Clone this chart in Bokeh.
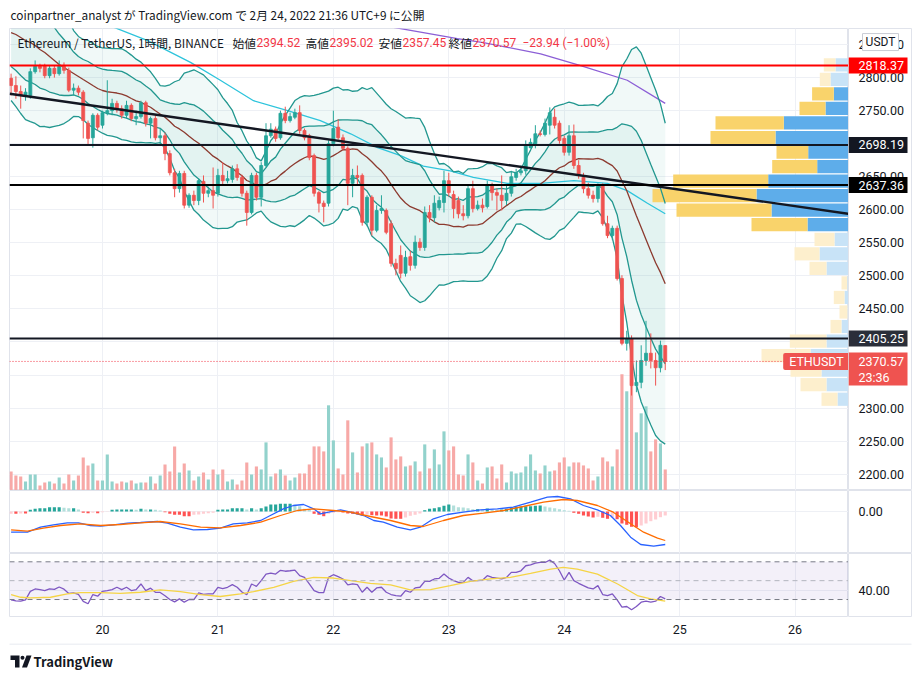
import numpy as np
import pandas as pd
from bokeh.plotting import figure
from bokeh.models import (Range1d, FixedTicker, Span, Label, BoxAnnotation)
from bokeh.layouts import column, row
from bokeh.core.properties import value
from bokeh.embed import file_html
from bokeh.resources import INLINE

# ---------------- data: ETH/USDT 1h (Binance), first bar 2022-02-19 05:00 UTC+9 ----------------
opens = [2799, 2788, 2779, 2773, 2773, 2809, 2817, 2817, 2803, 2814,
         2806, 2817, 2811, 2781, 2784, 2778, 2731, 2709, 2743, 2728,
         2747, 2750, 2761, 2753, 2743, 2758, 2738, 2741, 2762, 2731,
         2738, 2709, 2712, 2685, 2656, 2632, 2655, 2607, 2622, 2614,
         2643, 2625, 2629, 2625, 2652, 2644, 2646, 2662, 2649, 2625,
         2596, 2652, 2619, 2667, 2712, 2722, 2709, 2746, 2735, 2740,
         2747, 2720, 2712, 2682, 2626, 2610, 2610, 2700, 2725, 2709,
         2693, 2640, 2652, 2652, 2581, 2619, 2569, 2599, 2599, 2579,
         2519, 2531, 2504, 2529, 2516, 2551, 2543, 2596, 2588, 2603,
         2611, 2644, 2623, 2614, 2594, 2591, 2632, 2602, 2607, 2605,
         2637, 2626, 2622, 2614, 2625, 2649, 2656, 2659, 2694, 2700,
         2715, 2714, 2728, 2740, 2731, 2708, 2687, 2712, 2667, 2649,
         2632, 2622, 2617, 2637, 2579, 2561, 2572, 2496, 2398, 2405,
         2334, 2339, 2372, 2383, 2372, 2361, 2394.52]
highs = [2806, 2802, 2788, 2784, 2814, 2826, 2821, 2821, 2818, 2818,
         2826, 2823, 2815, 2791, 2788, 2781, 2735, 2746, 2746, 2750,
         2796, 2768, 2765, 2758, 2765, 2761, 2750, 2765, 2765, 2741,
         2743, 2723, 2717, 2690, 2662, 2659, 2659, 2625, 2629, 2647,
         2652, 2635, 2664, 2662, 2672, 2659, 2667, 2669, 2653, 2629,
         2656, 2656, 2672, 2731, 2731, 2726, 2750, 2756, 2747, 2753,
         2758, 2723, 2715, 2685, 2629, 2614, 2705, 2750, 2737, 2714,
         2696, 2662, 2667, 2655, 2622, 2622, 2607, 2622, 2602, 2584,
         2526, 2546, 2538, 2538, 2561, 2557, 2605, 2607, 2622, 2620,
         2659, 2656, 2629, 2620, 2607, 2637, 2644, 2614, 2617, 2644,
         2641, 2632, 2652, 2637, 2659, 2662, 2667, 2705, 2708, 2728,
         2720, 2738, 2755, 2753, 2735, 2712, 2728, 2729, 2675, 2656,
         2641, 2629, 2640, 2640, 2591, 2576, 2576, 2501, 2417, 2410,
         2372, 2395, 2432, 2413, 2384, 2402, 2395.02]
lows = [2773, 2768, 2753, 2765, 2768, 2806, 2808, 2799, 2799, 2800,
        2803, 2806, 2778, 2773, 2773, 2708, 2697, 2694, 2720, 2723,
        2743, 2743, 2747, 2738, 2738, 2734, 2728, 2738, 2726, 2708,
        2705, 2697, 2675, 2652, 2619, 2626, 2602, 2603, 2607, 2607,
        2611, 2619, 2602, 2620, 2637, 2640, 2641, 2644, 2620, 2576,
        2593, 2614, 2605, 2664, 2709, 2703, 2706, 2731, 2732, 2737,
        2715, 2705, 2675, 2620, 2596, 2581, 2605, 2696, 2706, 2690,
        2607, 2619, 2637, 2576, 2575, 2561, 2566, 2594, 2563, 2514,
        2501, 2496, 2499, 2508, 2511, 2538, 2538, 2581, 2581, 2599,
        2596, 2620, 2587, 2587, 2584, 2587, 2596, 2599, 2596, 2602,
        2614, 2599, 2599, 2607, 2620, 2644, 2652, 2653, 2693, 2693,
        2711, 2711, 2714, 2723, 2700, 2682, 2682, 2662, 2647, 2625,
        2617, 2611, 2611, 2576, 2557, 2554, 2493, 2395, 2387, 2319,
        2324, 2330, 2364, 2360, 2334, 2354, 2357.45]
closes = [2788, 2779, 2773, 2778, 2809, 2817, 2814, 2803, 2814, 2806,
          2817, 2811, 2781, 2784, 2778, 2735, 2708, 2743, 2725, 2747,
          2750, 2761, 2753, 2743, 2758, 2738, 2741, 2762, 2731, 2738,
          2709, 2712, 2685, 2656, 2632, 2655, 2607, 2622, 2614, 2644,
          2625, 2629, 2622, 2652, 2644, 2647, 2662, 2649, 2625, 2596,
          2652, 2619, 2667, 2712, 2722, 2708, 2746, 2735, 2741, 2747,
          2720, 2709, 2679, 2625, 2610, 2605, 2700, 2723, 2709, 2693,
          2640, 2652, 2649, 2581, 2619, 2569, 2599, 2602, 2566, 2519,
          2511, 2504, 2528, 2516, 2551, 2543, 2596, 2588, 2610, 2614,
          2644, 2626, 2602, 2594, 2591, 2632, 2602, 2607, 2603, 2637,
          2626, 2622, 2614, 2625, 2650, 2656, 2659, 2697, 2702, 2715,
          2714, 2731, 2747, 2728, 2705, 2687, 2712, 2667, 2652, 2632,
          2622, 2617, 2637, 2579, 2561, 2572, 2496, 2398, 2405, 2334,
          2339, 2372, 2383, 2372, 2361, 2395, 2370.57]
# volume, thousand ETH
volumes = [9.5, 7.5, 7, 4.5, 8, 8, 2.5, 4, 4.5, 3.5,
           6.5, 3.5, 8, 5, 7.5, 16.5, 12.5, 13.5, 5, 5,
           18, 4.5, 3.5, 4.5, 4, 5, 3.5, 4, 4, 7,
           3.5, 7.5, 13, 9.5, 22, 9, 13.5, 10, 5, 7,
           9, 5.5, 10.5, 8, 10.5, 4.5, 5.5, 3, 5, 14,
           8, 12, 10.5, 24, 7, 8.5, 10.5, 7.5, 5, 6.5,
           8.5, 8.5, 13, 22, 22, 19.5, 42.5, 25, 11, 8,
           35, 19, 9, 22, 23.5, 24, 18, 16.5, 11.5, 26.5,
           15.5, 17, 12, 12.5, 14.5, 9.5, 23, 11, 20.5, 13,
           29.5, 20, 22, 8, 7.5, 18, 14, 5, 3.5, 11.5,
           12, 6, 13, 4, 9.5, 8.5, 9, 12, 18, 10,
           8.5, 12.5, 9.5, 10, 14, 16.5, 12, 14, 14, 12.5,
           11, 5, 7, 16.5, 14.5, 12, 20.5, 58, 49.5, 55.5,
           29, 38.5, 42, 19.5, 25.5, 23.5, 10.5]

# Bollinger Bands (20) values for the first 19 bars (window starts before the chart)
bb_mid_head = [2868.2, 2865.2, 2860.7, 2856.1, 2853.1, 2848.6, 2842.5, 2838.0, 2831.9, 2825.9,
               2819.8, 2815.3, 2810.7, 2806.2, 2801.7, 2797.1, 2792.6, 2788.0, 2783.5]
bb_sd_head = [51.4, 54.5, 57.5, 59.8, 59.8, 59.0, 58.3, 56.0, 53.7, 49.9,
              46.1, 42.4, 37.8, 32.5, 30.3, 30.3, 31.8, 31.8, 31.8]

# longer moving averages (bar index, price)
ma_cyan_x = [20, 28.4, 37.3, 43.5, 50.4, 57.5, 64.3, 70.6, 76.2, 81, 85.7, 91.3, 96.1,
             103.2, 110.1, 117, 124, 128.1, 132.3, 136]
ma_cyan = [2880, 2856, 2823, 2796, 2765, 2750, 2735, 2715, 2694, 2682, 2666, 2659, 2649,
           2640, 2640, 2644, 2640, 2629, 2610, 2594]
ma_purple_x = [76, 79.5, 92.8, 98.2, 110.1, 118.4, 128.1, 136]
ma_purple = [2881, 2876, 2859, 2853, 2836, 2818, 2796, 2761]

# drawings
level_prices = [2818.37, 2698.19, 2637.36, 2405.25]
level_colors = ["#ff0000", "#131722", "#000000", "#131722"]
level_tag_colors = ["#ff0000", "#131722", "#000000", "#2a2e39"]
trend_x = [-0.3, 174.1]
trend_y = [2775.5, 2594.0]
last_price = 2370.57
countdown = "23:36"

# header / legend texts
title_text = "coinpartner_analyst が TradingView.com で 2月 24, 2022 21:36 UTC+9 に公開"
symbol_text = "Ethereum / TetherUS, 1時間, BINANCE"
ohlc_names = ["始値", "高値", "安値", "終値"]
change_text = "−23.94 (−1.00%)"

# visible-range volume profile (rows of 22 USDT)
vp_price = [2819.4, 2797.4, 2775.4, 2753.4, 2731.4, 2709.4, 2687.4, 2665.4, 2643.4, 2621.4,
            2599.4, 2577.4, 2555.4, 2533.4, 2511.4, 2489.4, 2467.4, 2445.4, 2423.4, 2401.4,
            2379.4, 2357.4, 2335.4, 2313.4]
vp_up = [13, 18, 14.7, 23, 64.7, 73, 40.3, 31.3, 80.3, 92, 77, 41, 14, 29, 22, 1.3, 4, 1, 7, 22,
         38, 27, 22, 11]
vp_down = [11.7, 10.7, 21.7, 26, 68.3, 65, 31.7, 45, 95, 104, 95, 56, 20, 25, 17, 5.7, 10.7, 8,
           11, 36.7, 49, 31, 26, 16]
vp_value_area = [False, False, True, True, True, True, True, True, True, True, True, True,
                 False, False, False, False, False, False, False, False, False, False, False, False]

# MACD
macd_hist = [-2.3, -2.3, -2, -2, 1.7, 2.7, 3.3, 3.3, 4.3, 4.3,
             4.3, 3.7, 3.3, 3.3, 2, -1.3, -1.7, -1.3, -1.7, -0.7,
             -0.3, 1.7, 2, 2, 2, 2, 1.7, 2.7, 2, 2,
             1.7, 1, -0.7, -2.3, -3.3, -3.3, -4.7, -4.7, -3.3, -3,
             -2.3, -1.7, -1.3, 1.7, 2, 2, 3.3, 3.3, 3.3, 2,
             3.3, 2, 3.3, 5, 7, 7, 7.7, 7.7, 7.7, 6.7,
             5.3, 2.7, 1.7, -2.3, -3.3, -4.7, -2.3, -1.3, -0.7, -1,
             -2, -2.3, -3, -4, -3.3, -3.7, -4, -4, -5, -7,
             -7.3, -7.3, -6, -4.3, -3.3, -2, 1.3, 2.7, 3.3, 4.3,
             5.7, 7, 6, 4.3, 4, 3.3, 2.3, 2.3, 2, 3,
             2, 1.7, 2, 2.7, 4, 4.7, 5, 5.3, 5.3, 5.7,
             6, 5, 4, 3.3, 2.3, 1.3, 0.7, -1.3, -2.3, -4,
             -5, -6, -5.3, -6.3, -7.3, -6, -7.7, -12, -13.3, -15.3,
             -15.7, -14, -12, -9.7, -8, -5.7, -4]
macd_x = [0, 3.4, 6.1, 8.8, 11.7, 14, 16.5, 18.6, 21.3, 24.2, 26.9, 30.4, 32.5, 35.2, 37.9,
          40.8, 43.5, 46.2, 49.1, 51.9, 53.9, 56.6, 58.7, 60.8, 62.9, 64.3, 66, 68.5, 70.6,
          73.3, 75.4, 77.4, 80.3, 83, 85.1, 87.8, 90.7, 94, 97.6, 101.1, 104.4, 108, 111.5,
          113.6, 116.3, 119, 121.9, 124.6, 126.7, 128.8, 130.9, 133.6, 136]
macd_line = [-20.7, -20.7, -15.7, -13.3, -11.3, -11.3, -14, -14.7, -13.3, -11.7, -11, -10,
             -11.7, -15.7, -18.3, -18, -16.7, -12.3, -11.3, -9, -4, 2.7, 6, 7, 2.7, -2.3,
             -0.7, 1.7, -0.7, -4, -9, -10.7, -15.7, -18.3, -15.7, -7.3, -3, -0.7, 1.7, 2.7,
             4.3, 9.3, 14.3, 15, 12.7, 6, 1.7, -4, -14, -25.7, -33, -34.7, -33]
signal_x = [0, 3.4, 6.7, 10.3, 14.4, 18.6, 22.7, 26.9, 31, 35.2, 39.4, 43.5, 47.7, 51.9, 56,
            59.5, 62.9, 67, 70.6, 74.7, 78.9, 83, 85.7, 89.9, 94, 98.2, 102.4, 106.5, 110.7,
            114.8, 117.7, 121.9, 125.2, 128.8, 131.5, 134.4, 136]
signal_line = [-18.3, -19.7, -16.7, -14, -12.3, -14, -13, -11.3, -10, -12.3, -15.7, -16.3,
               -14, -10.7, -4, 1, 2.7, 1, -0.7, -5, -9, -14, -15, -9, -4, -1.7, 1, 5, 9.3,
               12, 11, 6, -0.7, -12.3, -20.7, -26.7, -29]

# RSI (14) and its moving average
rsi = [29.7, 28.5, 28.2, 29.7, 38.7, 41.2, 40.5, 39.5, 41.2, 40.8,
       43.3, 41, 36.5, 37, 35.5, 28, 25.5, 35.3, 33.5, 38.7,
       39.5, 40.5, 43, 40.5, 43, 39.5, 40.5, 46.5, 39.5, 42,
       37.7, 37.5, 34, 30, 27.5, 30.7, 27.2, 30, 30, 37,
       35.5, 36, 36, 43, 41.5, 43, 45.8, 43, 38, 35,
       46.5, 44, 50, 57, 58, 57, 61, 60, 60.5, 61.2,
       55.3, 53.5, 46.5, 39.5, 37.4, 37.4, 53.5, 56.3, 54.2, 51.8,
       45.5, 46.5, 45.8, 37.7, 43, 37.7, 42.3, 43, 37.7, 35.3,
       34.2, 33.5, 39.5, 37.7, 42.3, 43, 49.3, 49.3, 51.8, 52.5,
       57, 52.8, 50, 48.2, 48.2, 53.5, 50, 50, 50.5, 55.3,
       53.5, 52.8, 51.8, 53.5, 58.8, 58.8, 60.5, 65.8, 66.8, 68.6,
       69.3, 69.3, 71.8, 68.2, 60.5, 50.7, 58.8, 50, 47.2, 44.7,
       42.3, 41.2, 44.7, 35.3, 34.2, 36, 29.7, 21.9, 22.6, 19.2,
       22.6, 27.2, 28.2, 27.2, 28.2, 33.2, 30.7]
rsi_ma_x = [0, 2, 4, 8.2, 11.7, 14.4, 18.6, 22.7, 26.9, 31, 35.2, 39.4, 43.5, 47.7, 50.4,
            54.6, 58.7, 62.9, 67, 70.6, 74.7, 78.9, 83, 87.2, 91.3, 95.5, 99.7, 103.8, 108,
            112.2, 114.8, 117.7, 121.9, 126.1, 130.2, 133, 136]
rsi_ma = [35.3, 32.4, 31.8, 32.4, 36, 37.4, 37.4, 36.6, 37.7, 40.2, 38.4, 35.3, 33.2, 36,
          38.4, 43, 49.3, 53.5, 52.8, 50, 47.2, 45.5, 40.2, 40.5, 44.7, 49.3, 51.8, 53.5,
          57.7, 62.3, 64, 62.3, 57, 46.5, 34.2, 30.7, 28.2]

# axis ticks
day_ticks = [19, 43, 67, 91, 115, 139, 163]
day_labels = ["20", "21", "22", "23", "24", "25", "26"]
price_ticks = [2200, 2250, 2300, 2350, 2400, 2450, 2500, 2550, 2600, 2650, 2700, 2750, 2800, 2850]
macd_ticks = [0]
rsi_ticks = [40]

# ---------------- styling ----------------
GREEN, RED = "#26a69a", "#ef5350"
TEAL, BROWN = "#22978f", "#8c3a2f"
TXT = "#131722"
BORDER = "#e0e3eb"
JP = "Noto Sans CJK JP"
NUM = "Roboto"
MAIN_W, SCALE_W = 848, 64
xr = Range1d(-0.33, 174.1)
xs = np.arange(len(closes))


def main_fig(height, yr, yticks, bottom=0, xaxis=None):
    f = figure(width=MAIN_W, height=height, x_range=xr, y_range=yr, output_backend="svg",
               toolbar_location=None, x_axis_location=xaxis, y_axis_location=None,
               min_border_left=9, min_border_right=0, min_border_top=0,
               min_border_bottom=bottom)
    f.outline_line_color = BORDER
    f.background_fill_color = "white"
    f.border_fill_color = "white"
    f.grid.grid_line_color = "#eef0f5"
    f.xgrid[0].axis.ticker = FixedTicker(ticks=day_ticks)
    f.ygrid[0].axis.ticker = FixedTicker(ticks=yticks)
    return f


def scale_fig(height, yr, yticks, bottom=0):
    s = figure(width=SCALE_W, height=height, x_range=Range1d(0, SCALE_W), y_range=yr,
               output_backend="svg", toolbar_location=None, x_axis_location=None,
               y_axis_location=None, min_border_left=0, min_border_right=0,
               min_border_top=0, min_border_bottom=bottom)
    s.outline_line_color = BORDER
    s.background_fill_color = "white"
    s.border_fill_color = "white"
    s.grid.grid_line_color = None
    s.text(x=[10] * len(yticks), y=yticks, text=[f"{t:.2f}" for t in yticks],
           text_font=value(NUM), text_font_size=value("12.5px"), text_color=TXT,
           text_align="left", text_baseline="middle")
    return s


def strip_fig(height):
    s = figure(width=MAIN_W + SCALE_W, height=height, x_range=Range1d(0, MAIN_W + SCALE_W),
               y_range=Range1d(height, 0), output_backend="svg", toolbar_location=None,
               x_axis_location=None, y_axis_location=None, min_border=0)
    s.outline_line_color = None
    s.grid.grid_line_color = None
    s.background_fill_color = "white"
    s.border_fill_color = "white"
    return s


def flabel(fig, text, xpix, y, color=TXT, font=JP, size="11.8px", align="left"):
    fig.add_layout(Label(x=xpix, y=y, x_units="screen", y_units="data", text=text,
                         text_font=font, text_font_size=size, text_color=color,
                         text_align=align, text_baseline="middle"))


def scale_tag(s, text_lines, y_center, y_lines, bg, height_px, fg="#ffffff"):
    s.rect(x=[29.5], y=[y_center], width=59, height=height_px, height_units="screen",
           fill_color=bg, line_color=None)
    s.text(x=[10] * len(text_lines), y=y_lines, text=text_lines, text_font=value(NUM),
           text_font_size=value("12.5px"), text_color=fg, text_align="left",
           text_baseline="middle")


# ---------------- header ----------------
hdr = strip_fig(28)
hdr.text(x=[10], y=[14], text=[title_text], text_font=value(JP),
         text_font_size=value("11.8px"), text_color=TXT, text_baseline="middle")

# ---------------- price panel ----------------
price_range = Range1d(2175.3, 2874.3)
p = main_fig(462, price_range, price_ticks)
p.extra_y_ranges = {"vol": Range1d(0, 230.5)}
p.extra_x_ranges = {"vp": Range1d(839, 0)}

cs = pd.Series(closes, dtype=float)
mid = cs.rolling(20).mean().to_numpy()
sd = cs.rolling(20).std(ddof=0).to_numpy()
mid[:19] = bb_mid_head
sd[:19] = bb_sd_head

p.varea(x=xs, y1=mid - 2 * sd, y2=mid + 2 * sd, fill_color=GREEN, fill_alpha=0.065)
p.varea(x=xs, y1=mid - sd, y2=mid + sd, fill_color=GREEN, fill_alpha=0.065)

up_col = ["#5eadea" if va else "#c8e3f7" for va in vp_value_area]
dn_col = ["#f9d36b" if va else "#fdefcd" for va in vp_value_area]
p.hbar(y=vp_price, left=0, right=vp_up, height=20, x_range_name="vp",
       fill_color=up_col, line_color=None)
p.hbar(y=vp_price, left=vp_up, right=list(np.add(vp_up, vp_down)), height=20,
       x_range_name="vp", fill_color=dn_col, line_color=None)

vol_col = ["#92d2cc" if c >= o else "#f7a9a7" for o, c in zip(opens, closes)]
p.vbar(x=xs, top=volumes, bottom=0, width=0.65, y_range_name="vol",
       fill_color=vol_col, line_color=None)

p.line(ma_cyan_x, ma_cyan, line_color="#2ec4dc", line_width=1.3)
p.line(ma_purple_x, ma_purple, line_color="#8c5fd6", line_width=1.3)
for band in (mid + 2 * sd, mid - 2 * sd, mid + sd, mid - sd):
    p.line(xs, band, line_color=TEAL, line_width=1.3)
p.line(xs, mid, line_color=BROWN, line_width=1.3)

cdl_col = [GREEN if c >= o else RED for o, c in zip(opens, closes)]
p.segment(x0=xs, y0=lows, x1=xs, y1=highs, line_color=cdl_col, line_width=1)
p.vbar(x=xs, top=list(np.maximum(opens, closes)), bottom=list(np.minimum(opens, closes)),
       width=0.62, fill_color=cdl_col, line_color=cdl_col, line_width=0.8)

p.line(trend_x, trend_y, line_color="#131722", line_width=2.4)
for lp, lc in zip(level_prices, level_colors):
    p.add_layout(Span(location=lp, dimension="width", line_color=lc, line_width=2))
p.add_layout(Span(location=last_price, dimension="width", line_color="#f23645",
                  line_width=1, line_dash="1 2"))

# legend row inside the chart
legend_y = 2853.1
flabel(p, symbol_text, 8, legend_y)
last_vals = [opens[-1], highs[-1], lows[-1], closes[-1]]
for nm, vx, vv in zip(ohlc_names, [223, 296, 369, 439], last_vals):
    flabel(p, nm, vx, legend_y)
    flabel(p, f"{vv:.2f}", vx + 24, legend_y, color="#f23645", font=NUM, size="12px")
flabel(p, change_text, 513, legend_y, color="#f23645", font=NUM, size="12px")

p.add_layout(Label(x=807, y=last_price, x_units="screen", y_units="data", text="ETHUSDT",
                   text_font=NUM, text_font_size="12.5px", text_color="white",
                   text_align="center", text_baseline="middle",
                   background_fill_color="#ef5350", border_radius=2,
                   padding=dict(left=6, right=6, top=1, bottom=1)))

ps = scale_fig(462, price_range, price_ticks)
for lp, bc in zip(level_prices, level_tag_colors):
    scale_tag(ps, [f"{lp:.2f}"], lp, [lp], bc, 16)
scale_tag(ps, [f"{last_price:.2f}", countdown], 2359.1, [last_price, 2346.2], "#ef5350", 33)
ps.rect(x=[32], y=[2853.8], width=36, height=17, height_units="screen",
        fill_color="white", line_color="#c9ccd4", line_width=1)
ps.text(x=[32], y=[2853.8], text=["USDT"], text_font=value(NUM),
        text_font_size=value("12px"), text_color=TXT, text_align="center",
        text_baseline="middle")

# ---------------- MACD panel ----------------
macd_range = Range1d(-42, 21)
m = main_fig(63, macd_range, macd_ticks)
hist_col = []
prev = None
for h in macd_hist:
    if h >= 0:
        hist_col.append("#26a69a" if (prev is None or h >= prev) else "#b2dfdb")
    else:
        hist_col.append("#ffcdd2" if (prev is None or h > prev) else "#ff5252")
    prev = h
m.vbar(x=xs, top=macd_hist, bottom=0, width=0.65, fill_color=hist_col, line_color=None)
m.line(macd_x, macd_line, line_color="#2962ff", line_width=1.3)
m.line(signal_x, signal_line, line_color="#ff6d00", line_width=1.3)
ms = scale_fig(63, macd_range, macd_ticks)

# ---------------- RSI panel ----------------
rsi_range = Range1d(12.0, 78.8)
r = main_fig(90, rsi_range, rsi_ticks, bottom=27, xaxis="below")
xa = r.xaxis[0]
xa.ticker = FixedTicker(ticks=day_ticks)
xa.major_label_overrides = {t: l for t, l in zip(day_ticks, day_labels)}
xa.axis_line_color = None
xa.major_tick_line_color = None
xa.minor_tick_line_color = None
xa.major_tick_out = 0
xa.major_tick_in = 0
xa.major_label_standoff = 8
xa.major_label_text_font = NUM
xa.major_label_text_font_size = "12.5px"
xa.major_label_text_color = TXT
r.add_layout(BoxAnnotation(bottom=30, top=70, fill_color="#7e57c2", fill_alpha=0.09,
                           line_color=None, level="underlay"))
for lv, lc in ((70, "#787b86"), (30, "#787b86"), (50, "#b2b5be")):
    r.add_layout(Span(location=lv, dimension="width", line_color=lc, line_width=1,
                      line_dash="5 4"))
r.line(xs, rsi, line_color="#7e57c2", line_width=1.3)
r.line(rsi_ma_x, rsi_ma, line_color="#f5d445", line_width=1.3)
rs = scale_fig(90, rsi_range, rsi_ticks, bottom=27)

# ---------------- footer ----------------
ftr = strip_fig(28)
ftr.line([9, MAIN_W + SCALE_W - 1], [0.5, 0.5], line_color=BORDER, line_width=1)
ftr.patch([10, 19, 19, 14.5, 14.5, 10], [12, 12, 24, 24, 16.5, 16.5], fill_color=TXT,
          line_color=None)
ftr.circle(x=[22], y=[14.3], radius=2, fill_color=TXT, line_color=None)
ftr.patch([26, 31, 26.5, 21.5], [12, 12, 24, 24], fill_color=TXT, line_color=None)
ftr.text(x=[33], y=[18], text=["TradingView"], text_font=value(JP),
         text_font_size=value("13px"), text_font_style="bold", text_color=TXT,
         text_baseline="middle")

layout = column(hdr, row(p, ps, spacing=0), row(m, ms, spacing=0), row(r, rs, spacing=0),
                ftr, spacing=0)
open("out.html", "w").write(file_html(layout, INLINE))
